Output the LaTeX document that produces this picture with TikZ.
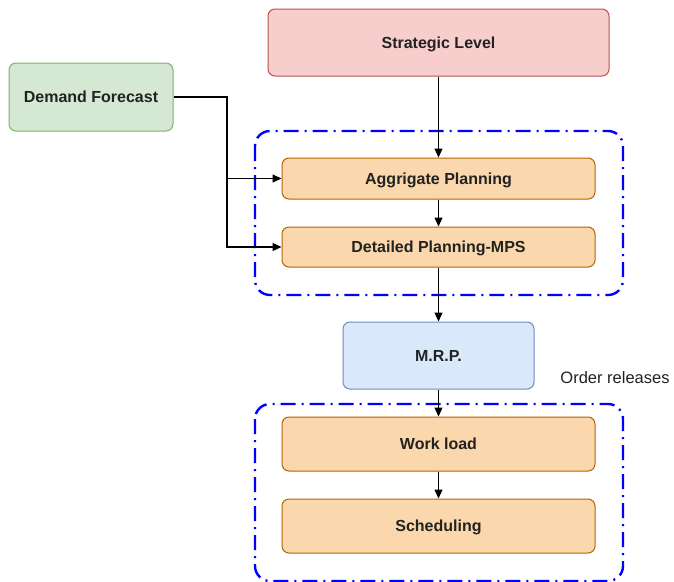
\documentclass[tikz,border=0pt]{standalone}
\usepackage{fontspec}
\setmainfont{Liberation Sans}
\usetikzlibrary{arrows.meta}
\definecolor{redfill}{HTML}{F8CECC}\definecolor{redline}{HTML}{B85450}
\definecolor{greenfill}{HTML}{D5E8D4}\definecolor{greenline}{HTML}{82B366}
\definecolor{orfill}{HTML}{FAD7AC}\definecolor{orline}{HTML}{B46504}
\definecolor{bluefill}{HTML}{DAE8FC}\definecolor{blueline}{HTML}{6C8EBF}
\definecolor{grpblue}{HTML}{0000FF}
\definecolor{txt}{HTML}{222222}
\begin{document}
\begin{tikzpicture}[x=1pt,y=-1pt,
  box/.style={draw, rounded corners=7pt, line width=1pt, text=txt,
    font=\fontsize{16}{19}\selectfont\bfseries, inner sep=0pt, anchor=center,
    text height=11.5pt, text depth=0pt},
  stratbox/.style={box, fill=redfill, draw=redline, minimum width=341pt, minimum height=67pt},
  demandbox/.style={box, fill=greenfill, draw=greenline, minimum width=164pt, minimum height=68pt},
  planbox/.style={box, fill=orfill, draw=orline, minimum width=313pt},
  mrpbox/.style={box, fill=bluefill, draw=blueline, minimum width=191pt, minimum height=67pt},
  grp/.style={draw=grpblue, line width=2.4pt, rounded corners=15pt,
    dash pattern=on 15pt off 6pt on 2pt off 6pt},
  arr/.style={draw=black, line width=1.1pt, -{Triangle[length=9pt,width=8pt]}}]
\useasboundingbox (0,0) rectangle (674,581);
\fill[white] (0,0) rectangle (674,581);
% groups
\draw[grp] (255,131) rectangle (623,295);
\draw[grp] (255,404) rectangle (623,581);
% nodes
\node[stratbox] (strat) at (438.5,42.5) {Strategic Level};
\node[demandbox] (demand) at (91,97) {Demand Forecast};
\node[planbox, minimum height=41pt] (aggr) at (438.5,178.5) {Aggrigate Planning};
\node[planbox, minimum height=40pt] (detail) at (438.5,247) {Detailed Planning-MPS};
\node[mrpbox] (mrp) at (438.5,355.5) {M.R.P.};
\node[planbox, minimum height=54pt] (work) at (438.5,444) {Work load};
\node[planbox, minimum height=54pt] (sched) at (438.5,526) {Scheduling};
\node[font=\fontsize{16.5}{19}\selectfont, text=txt, anchor=center,
  text height=11.5pt, text depth=0pt, inner sep=0pt] (order) at (615,377.5) {Order releases};
% connectors
\coordinate (jct) at (227,178.5);
\draw[arr] (strat) -- (aggr);
\draw[arr] (aggr) -- (detail);
\draw[arr] (detail) -- (mrp);
\draw[arr] (mrp) -- (work);
\draw[arr] (work) -- (sched);
\draw[arr] (demand.east) -| (227,247) -- (detail.west);
\draw[arr] (jct) -- (aggr.west);
\end{tikzpicture}
\end{document}
